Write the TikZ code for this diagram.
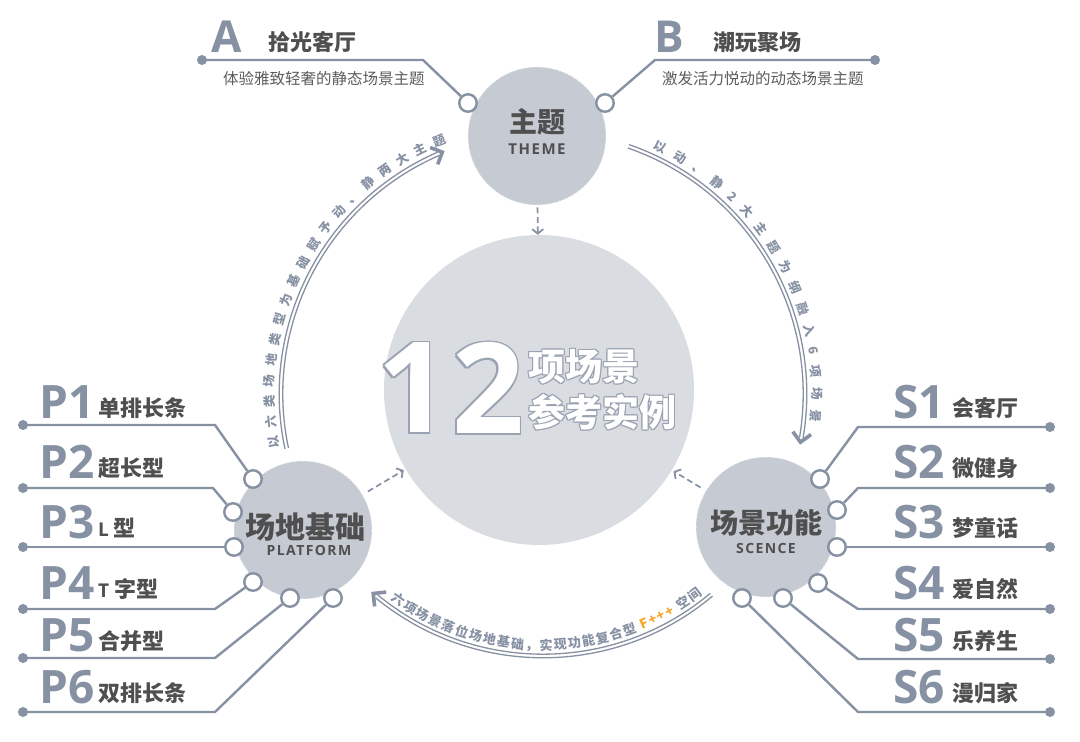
\documentclass[tikz,border=0pt]{standalone}
\usepackage{fontspec}
\usetikzlibrary{calc,arrows.meta,decorations.text}
\newfontfamily\cjk{Noto Sans CJK SC}
\newfontfamily\lat{Open Sans}
\newfontfamily\latsp{Open Sans}[LetterSpace=10]
\definecolor{ln}{HTML}{8691A3}
\definecolor{cf}{HTML}{C5CAD3}
\definecolor{bigf}{HTML}{D9DCE1}
\definecolor{dk}{HTML}{4F4F4F}
\definecolor{subc}{HTML}{5C5C5C}
\definecolor{org}{HTML}{F5A623}
\definecolor{ol}{HTML}{9AA3B2}
\newcommand\outltext[2]{\leavevmode
 \rlap{\color{ol}\kern#1\relax#2}%
 \rlap{\color{ol}\kern-#1\relax#2}%
 \rlap{\color{ol}\raisebox{#1}{#2}}%
 \rlap{\color{ol}\raisebox{-#1}{#2}}%
 \rlap{\color{ol}\kern#1\relax\raisebox{#1}{#2}}%
 \rlap{\color{ol}\kern-#1\relax\raisebox{#1}{#2}}%
 \rlap{\color{ol}\kern#1\relax\raisebox{-#1}{#2}}%
 \rlap{\color{ol}\kern-#1\relax\raisebox{-#1}{#2}}%
 {\color{white}#2}}
\begin{document}
\begin{tikzpicture}[x=1pt,y=1pt,
  ring/.style={circle, draw=ln, fill=white, line width=2.4pt, minimum size=17.5pt, inner sep=0pt},
  tdot/.style={circle, fill=ln, minimum size=10pt, inner sep=0pt},
  conn/.style={draw=ln, line width=2.4pt, line join=round},
  hub/.style={circle, fill=cf, draw=white, draw opacity=0.7, line width=1pt, dash pattern=on 1pt off 1.5pt, inner sep=0pt},
  arcl/.style={draw=ln, line width=1.3pt},
  chev/.style={draw=ln, line width=3.6pt, line join=miter},
  dsharrow/.style={draw=ln, line width=1.7pt, dash pattern=on 6pt off 3.5pt, -{Straight Barb[length=4.5pt,width=11pt,line width=1.8pt]}},
  bigl/.style={font=\lat\bfseries\fontsize{46}{46}\selectfont, text=ln, inner sep=0pt, anchor=base west},
  cjl/.style={font=\cjk\bfseries\fontsize{22}{22}\selectfont, text=dk, inner sep=0pt, anchor=base west},
  subl/.style={font=\cjk\fontsize{15.5}{16}\selectfont, text=subc, inner sep=0pt, anchor=base west},
]
\fill[white] (0,0) rectangle (1080,742);
\useasboundingbox (0,0) rectangle (1080,742);
\coordinate (O) at (543,348);

% main circles
\node[circle, fill=bigf, minimum size=310pt, inner sep=0pt] (core) at (539,352) {};
\node[hub, minimum size=138pt] (theme) at (537,606) {};
\node[hub, minimum size=138pt] (plat) at (303,212) {};
\node[hub, minimum size=140pt] (scen) at (766,215) {};

% dashed arrows to the core
\draw[dsharrow, shorten <=2pt] (theme) -- (core);
\draw[dsharrow, shorten <=6pt, shorten >=2pt] (plat) -- (core);
\draw[dsharrow, shorten <=6pt, shorten >=2pt] (scen) -- (core);

% left arc
\draw[arcl] ($(O)+(192:260.2)$) arc[start angle=192, end angle=113.6, radius=260.2];
\draw[arcl] ($(O)+(192:263.8)$) arc[start angle=192, end angle=113.6, radius=263.8];
\coordinate (le) at ($(O)+(112.6:262)$);
\coordinate (lb) at ($(O)+(116:262)$);
\draw[chev] ($(le)!13pt!45:(lb)$) -- (le) -- ($(le)!13pt!-45:(lb)$);
\path[decorate, decoration={text along path, text align={fit to path}, text color=ln,
  text={|\cjk\bfseries\fontsize{12.5}{13}\selectfont\color{ln}|以六类场地类型为基础赋予动、静两大主题}}]
  ($(O)+(191.5:269)$) arc[start angle=191.5, end angle=111, radius=269];

% right arc
\draw[arcl] ($(O)+(71:260.2)$) arc[start angle=71, end angle=-9.6, radius=260.2];
\draw[arcl] ($(O)+(71:263.8)$) arc[start angle=71, end angle=-9.6, radius=263.8];
\coordinate (re) at ($(O)+(-10.6:262)$);
\coordinate (rbk) at ($(O)+(-7:262)$);
\draw[chev] ($(re)!13pt!45:(rbk)$) -- (re) -- ($(re)!13pt!-45:(rbk)$);
\path[decorate, decoration={text along path, text align={fit to path}, text color=ln,
  text={|\cjk\bfseries\fontsize{12.5}{13}\selectfont\color{ln}|以动、静2大主题为纲融入6项场景}}]
  ($(O)+(66:269)$) arc[start angle=66, end angle=-6, radius=269];

% bottom arc
\draw[arcl] ($(O)+(310:260.2)$) arc[start angle=310, end angle=230.6, radius=260.2];
\draw[arcl] ($(O)+(310:263.8)$) arc[start angle=310, end angle=230.6, radius=263.8];
\coordinate (be) at ($(O)+(229.6:262)$);
\coordinate (bbk) at ($(O)+(233:262)$);
\draw[chev] ($(be)!13pt!45:(bbk)$) -- (be) -- ($(be)!13pt!-45:(bbk)$);
\path[decorate, decoration={text along path, text align={fit to path}, text color=ln,
  text={|\cjk\bfseries\fontsize{13}{14}\selectfont\color{ln}|六项场景落位场地基础，实现功能复合型 |\cjk\bfseries\fontsize{13}{14}\selectfont\color{org}|F+++|\cjk\bfseries\fontsize{13}{14}\selectfont\color{ln}| 空间}}]
  ($(O)+(233.5:256)$) arc[start angle=233.5, end angle=308.5, radius=256];

% theme connectors A / B
\node[ring] (ra) at (468,639) {};
\coordinate (ka) at (423,682);
\node[tdot] (da) at (202,682) {};
\draw[conn] (da.center) -- (ka) -- (ra);
\node[ring] (rb) at (605,639) {};
\coordinate (kb) at (655,682);
\node[tdot] (db) at (875,682) {};
\draw[conn] (db.center) -- (kb) -- (rb);

% platform connectors
\node[ring] (rp1) at (253,263) {};
\node[ring] (rp2) at (233,230) {};
\node[ring] (rp3) at (234,195) {};
\node[ring] (rp4) at (253,160) {};
\node[ring] (rp5) at (290,144) {};
\node[ring] (rp6) at (333,144) {};
\node[tdot] (dp1) at (23,317) {};
\node[tdot] (dp2) at (23,254) {};
\node[tdot] (dp3) at (23,195) {};
\node[tdot] (dp4) at (23,133) {};
\node[tdot] (dp5) at (23,84) {};
\node[tdot] (dp6) at (23,30) {};
\coordinate (kp1) at (215,317);
\coordinate (kp2) at (213,254);
\coordinate (kp4) at (215,133);
\coordinate (kp5) at (215,84);
\coordinate (kp6) at (215,30);
\draw[conn] (dp1.center) -- (kp1) -- (rp1);
\draw[conn] (dp2.center) -- (kp2) -- (rp2);
\draw[conn] (dp3.center) -- (rp3);
\draw[conn] (dp4.center) -- (kp4) -- (rp4);
\draw[conn] (dp5.center) -- (kp5) -- (rp5);
\draw[conn] (dp6.center) -- (kp6) -- (rp6);

% science connectors
\node[ring] (rs1) at (820,263) {};
\node[ring] (rs2) at (837,232) {};
\node[ring] (rs3) at (837,195) {};
\node[ring] (rs4) at (818,159) {};
\node[ring] (rs5) at (783,144) {};
\node[ring] (rs6) at (742,144) {};
\node[tdot] (ds1) at (1050,315) {};
\node[tdot] (ds2) at (1050,254) {};
\node[tdot] (ds3) at (1050,195) {};
\node[tdot] (ds4) at (1050,133) {};
\node[tdot] (ds5) at (1050,83) {};
\node[tdot] (ds6) at (1050,30) {};
\coordinate (ks1) at (858,315);
\coordinate (ks2) at (858,254);
\coordinate (ks4) at (858,133);
\coordinate (ks5) at (858,83);
\coordinate (ks6) at (858,30);
\draw[conn] (ds1.center) -- (ks1) -- (rs1);
\draw[conn] (ds2.center) -- (ks2) -- (rs2);
\draw[conn] (ds3.center) -- (rs3);
\draw[conn] (ds4.center) -- (ks4) -- (rs4);
\draw[conn] (ds5.center) -- (ks5) -- (rs5);
\draw[conn] (ds6.center) -- (ks6) -- (rs6);

% theme labels
\node[bigl, font=\lat\bfseries\fontsize{44}{44}\selectfont] (la) at (211,689) {A};
\node[cjl] (ta) at (268,691) {拾光客厅};
\node[subl] (sa) at (223,657) {体验雅致轻奢的静态场景主题};
\node[bigl, font=\lat\bfseries\fontsize{44}{44}\selectfont] (lbB) at (654,689) {B};
\node[cjl] (tb) at (713,691) {潮玩聚场};
\node[subl] (sb) at (662,657) {激发活力悦动的动态场景主题};

% hub labels
\node[font=\cjk\bfseries\fontsize{28}{28}\selectfont, text=dk, inner sep=0pt] (thcn) at (537,620) {主题};
\node[font=\latsp\bfseries\fontsize{15}{15}\selectfont, text=dk, inner sep=0pt] (then) at (537,593) {THEME};
\node[font=\cjk\bfseries\fontsize{30}{30}\selectfont, text=dk, inner sep=0pt] (plcn) at (305,215) {场地基础};
\node[font=\latsp\bfseries\fontsize{14}{14}\selectfont, text=dk, inner sep=0pt] (plen) at (309,192) {PLATFORM};
\node[font=\cjk\bfseries\fontsize{28}{28}\selectfont, text=dk, inner sep=0pt] (sccn) at (766,219) {场景功能};
\node[font=\latsp\bfseries\fontsize{14}{14}\selectfont, text=dk, inner sep=0pt] (scen2) at (766,193) {SCENCE};

% center labels
\node[font=\lat\bfseries\fontsize{126}{126}\selectfont, inner sep=0pt] (n1) at (413,354) {\outltext{1.5pt}{1}};
\node[font=\lat\bfseries\fontsize{126}{126}\selectfont, inner sep=0pt] (n2) at (488,354) {\outltext{1.5pt}{2}};
\node[font=\cjk\bfseries\fontsize{37}{37}\selectfont, inner sep=0pt, anchor=west] (c1) at (528,375) {\outltext{1pt}{项场景}};
\node[font=\cjk\bfseries\fontsize{37}{37}\selectfont, inner sep=0pt, anchor=west] (c2) at (528,330) {\outltext{1pt}{参考实例}};

% P labels
\node[bigl] (lp1) at (39,323) {P1};
\node[bigl] (lp2) at (39,263) {P2};
\node[bigl] (lp3) at (39,203) {P3};
\node[bigl] (lp4) at (39,142) {P4};
\node[bigl] (lp5) at (39,90) {P5};
\node[bigl] (lp6) at (39,38) {P6};
\node[cjl] (tp1) at (98,325) {单排长条};
\node[cjl] (tp2) at (98,265) {超长型};
\node[cjl] (tp3) at (98,205) {{\lat\fontsize{19}{19}\selectfont L} 型};
\node[cjl] (tp4) at (98,144) {{\lat\fontsize{19}{19}\selectfont T} 字型};
\node[cjl] (tp5) at (98,92) {合并型};
\node[cjl] (tp6) at (98,40) {双排长条};

% S labels
\node[bigl] (ls1) at (893,323) {S1};
\node[bigl] (ls2) at (893,263) {S2};
\node[bigl] (ls3) at (893,203) {S3};
\node[bigl] (ls4) at (893,142) {S4};
\node[bigl] (ls5) at (893,90) {S5};
\node[bigl] (ls6) at (893,38) {S6};
\node[cjl] (ts1) at (952,325) {会客厅};
\node[cjl] (ts2) at (952,265) {微健身};
\node[cjl] (ts3) at (952,205) {梦童话};
\node[cjl] (ts4) at (952,144) {爱自然};
\node[cjl] (ts5) at (952,92) {乐养生};
\node[cjl] (ts6) at (952,40) {漫归家};
\end{tikzpicture}
\end{document}
